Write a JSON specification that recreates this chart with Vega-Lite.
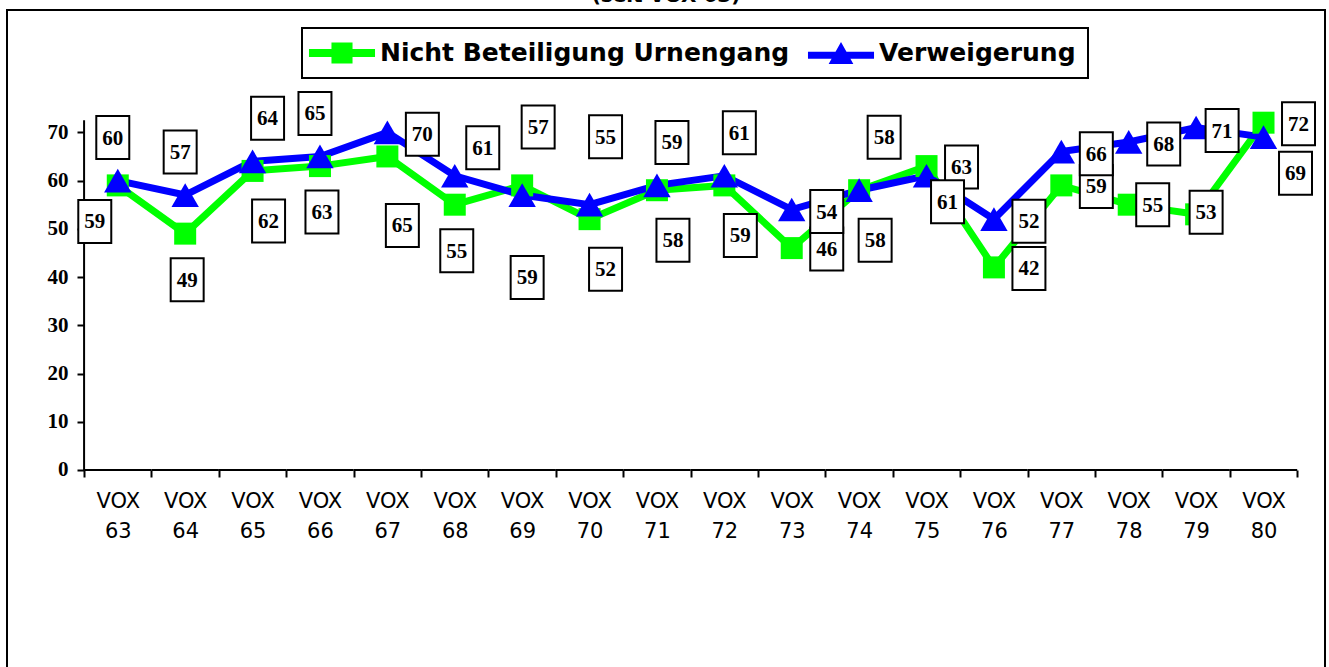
{
  "$schema": "https://vega.github.io/schema/vega-lite/v6.json",
  "width": 1318,
  "height": 657,
  "autosize": {"type": "none"},
  "padding": {"left": 7, "top": 10, "right": 4, "bottom": 0},
  "background": "white",
  "title": {"text": "(seit VOX 63)", "font": "DejaVu Sans", "fontSize": 20, "fontWeight": "bold", "anchor": "middle", "offset": 4, "color": "black"},
  "config": {
    "view": {"stroke": "black", "strokeWidth": 2, "strokeDash": [1975, 1318, 657]},
    "legend": {
      "orient": "none", "legendX": 295, "legendY": 18, "direction": "horizontal",
      "labelFont": "DejaVu Sans", "labelFontWeight": "bold", "labelFontSize": 25, "labelColor": "black", "labelLimit": 0,
      "symbolSize": 676, "symbolOffset": 15, "labelOffset": 25, "columnPadding": 17, "padding": 12,
      "strokeColor": "black", "fillColor": "white", "symbolOpacity": 1, "symbolStrokeWidth": 0
    }
  },
  "data": {"values": [
    {"vox": "VOX 63", "n": 63, "series": "Nicht Beteiligung Urnengang", "value": 59},
    {"vox": "VOX 64", "n": 64, "series": "Nicht Beteiligung Urnengang", "value": 49},
    {"vox": "VOX 65", "n": 65, "series": "Nicht Beteiligung Urnengang", "value": 62},
    {"vox": "VOX 66", "n": 66, "series": "Nicht Beteiligung Urnengang", "value": 63},
    {"vox": "VOX 67", "n": 67, "series": "Nicht Beteiligung Urnengang", "value": 65},
    {"vox": "VOX 68", "n": 68, "series": "Nicht Beteiligung Urnengang", "value": 55},
    {"vox": "VOX 69", "n": 69, "series": "Nicht Beteiligung Urnengang", "value": 59},
    {"vox": "VOX 70", "n": 70, "series": "Nicht Beteiligung Urnengang", "value": 52},
    {"vox": "VOX 71", "n": 71, "series": "Nicht Beteiligung Urnengang", "value": 58},
    {"vox": "VOX 72", "n": 72, "series": "Nicht Beteiligung Urnengang", "value": 59},
    {"vox": "VOX 73", "n": 73, "series": "Nicht Beteiligung Urnengang", "value": 46},
    {"vox": "VOX 74", "n": 74, "series": "Nicht Beteiligung Urnengang", "value": 58},
    {"vox": "VOX 75", "n": 75, "series": "Nicht Beteiligung Urnengang", "value": 63},
    {"vox": "VOX 76", "n": 76, "series": "Nicht Beteiligung Urnengang", "value": 42},
    {"vox": "VOX 77", "n": 77, "series": "Nicht Beteiligung Urnengang", "value": 59},
    {"vox": "VOX 78", "n": 78, "series": "Nicht Beteiligung Urnengang", "value": 55},
    {"vox": "VOX 79", "n": 79, "series": "Nicht Beteiligung Urnengang", "value": 53},
    {"vox": "VOX 80", "n": 80, "series": "Nicht Beteiligung Urnengang", "value": 72},
    {"vox": "VOX 63", "n": 63, "series": "Verweigerung", "value": 60},
    {"vox": "VOX 64", "n": 64, "series": "Verweigerung", "value": 57},
    {"vox": "VOX 65", "n": 65, "series": "Verweigerung", "value": 64},
    {"vox": "VOX 66", "n": 66, "series": "Verweigerung", "value": 65},
    {"vox": "VOX 67", "n": 67, "series": "Verweigerung", "value": 70},
    {"vox": "VOX 68", "n": 68, "series": "Verweigerung", "value": 61},
    {"vox": "VOX 69", "n": 69, "series": "Verweigerung", "value": 57},
    {"vox": "VOX 70", "n": 70, "series": "Verweigerung", "value": 55},
    {"vox": "VOX 71", "n": 71, "series": "Verweigerung", "value": 59},
    {"vox": "VOX 72", "n": 72, "series": "Verweigerung", "value": 61},
    {"vox": "VOX 73", "n": 73, "series": "Verweigerung", "value": 54},
    {"vox": "VOX 74", "n": 74, "series": "Verweigerung", "value": 58},
    {"vox": "VOX 75", "n": 75, "series": "Verweigerung", "value": 61},
    {"vox": "VOX 76", "n": 76, "series": "Verweigerung", "value": 52},
    {"vox": "VOX 77", "n": 77, "series": "Verweigerung", "value": 66},
    {"vox": "VOX 78", "n": 78, "series": "Verweigerung", "value": 68},
    {"vox": "VOX 79", "n": 79, "series": "Verweigerung", "value": 71},
    {"vox": "VOX 80", "n": 80, "series": "Verweigerung", "value": 69}
  ]},
  "encoding": {
    "x": {
      "field": "vox", "type": "nominal",
      "scale": {"type": "band", "paddingInner": 0, "paddingOuter": 0.778, "align": 0.735},
      "axis": {"tickBand": "extent", "domain": false, "grid": false, "offset": -197, "tickSize": 7, "tickWidth": 2, "tickColor": "black",
               "labelFont": "DejaVu Sans", "labelFontSize": 21, "labelColor": "black", "labelAngle": 0,
               "labelExpr": "split(datum.label, ' ')", "labelLineHeight": 30, "labelPadding": 13, "title": null}
    },
    "y": {
      "field": "value", "type": "quantitative",
      "scale": {"domain": [-40.84, 95.36], "nice": false, "zero": false},
      "axis": {"values": [0, 10, 20, 30, 40, 50, 60, 70], "domain": false, "grid": false, "offset": -77, "tickSize": 7, "tickWidth": 2, "tickColor": "black",
               "labelFont": "Liberation Serif", "labelFontWeight": "bold", "labelFontSize": 21, "labelColor": "black", "labelPadding": 9, "title": null}
    }
  },
  "layer": [
    {"transform": [{"filter": "datum.series == 'Verweigerung'"}], "mark": {"type": "rect", "color": "black", "opacity": 1},
     "encoding": {"y": {"datum": 0.21}, "y2": {"datum": -0.21}}},
    {"transform": [{"filter": "datum.series == 'Verweigerung' && datum.n == 63"}], "mark": {"type": "rule", "color": "black", "strokeWidth": 2, "opacity": 1},
     "encoding": {"x": {"field": "vox", "type": "nominal", "bandPosition": 0}, "y": {"datum": 0}, "y2": {"datum": 72.5}}},
    {"mark": {"type": "point", "filled": true, "opacity": 0},
     "encoding": {
       "color": {"field": "series", "type": "nominal", "title": null,
                 "scale": {"domain": ["Nicht Beteiligung Urnengang", "Verweigerung"], "range": ["#00FF00", "#0000FF"]},
                 "legend": {"title": null, "encode": {"legend": {"update": {"strokeWidth": {"value": 2}}}}}},
       "shape": {"field": "series", "type": "nominal", "title": null,
                 "scale": {"domain": ["Nicht Beteiligung Urnengang", "Verweigerung"],
                           "range": ["M-2.54,-0.3H2.54V0.3H-2.54Z M-0.81,-0.81H0.81V0.81H-0.81Z", "M-2.54,-0.1H2.54V0.45H-2.54Z M0,-0.85L0.95,0.85H-0.95Z"]},
                 "legend": {"title": null}}
     }},
    {"transform": [{"filter": "datum.series != 'Verweigerung'"}], "mark": {"type": "line", "color": "#00FF00", "strokeWidth": 7}},
    {"transform": [{"filter": "datum.series == 'Verweigerung'"}], "mark": {"type": "line", "color": "#0000FF", "strokeWidth": 7}},
    {"transform": [{"filter": "datum.series != 'Verweigerung'"}], "mark": {"type": "point", "shape": "square", "filled": true, "color": "#00FF00", "size": 484, "opacity": 1}},
    {"transform": [{"filter": "datum.series == 'Verweigerung'"}], "mark": {"type": "point", "shape": "triangle-up", "filled": true, "color": "#0000FF", "size": 750, "opacity": 1}},

    {"transform": [{"filter": "datum.series != 'Verweigerung' && indexof([63], datum.n) >= 0"}], "layer": [
      {"mark": {"type": "point", "shape": "M-0.767,-1H0.767V1H-0.767Z", "size": 1849, "filled": false, "fill": "white", "fillOpacity": 1, "stroke": "black", "strokeWidth": 2, "opacity": 1, "xOffset": -23, "yOffset": 36}},
      {"mark": {"type": "text", "font": "Liberation Serif", "fontWeight": "bold", "fontSize": 21, "color": "black", "baseline": "middle", "align": "center", "xOffset": -23, "yOffset": 37}, "encoding": {"text": {"field": "value"}}}]},
    {"transform": [{"filter": "datum.series != 'Verweigerung' && indexof([64,66,68], datum.n) >= 0"}], "layer": [
      {"mark": {"type": "point", "shape": "M-0.767,-1H0.767V1H-0.767Z", "size": 1849, "filled": false, "fill": "white", "fillOpacity": 1, "stroke": "black", "strokeWidth": 2, "opacity": 1, "xOffset": 2, "yOffset": 46}},
      {"mark": {"type": "text", "font": "Liberation Serif", "fontWeight": "bold", "fontSize": 21, "color": "black", "baseline": "middle", "align": "center", "xOffset": 2, "yOffset": 47}, "encoding": {"text": {"field": "value"}}}]},
    {"transform": [{"filter": "datum.series != 'Verweigerung' && indexof([65,70,71,72,74], datum.n) >= 0"}], "layer": [
      {"mark": {"type": "point", "shape": "M-0.767,-1H0.767V1H-0.767Z", "size": 1849, "filled": false, "fill": "white", "fillOpacity": 1, "stroke": "black", "strokeWidth": 2, "opacity": 1, "xOffset": 16, "yOffset": 50}},
      {"mark": {"type": "text", "font": "Liberation Serif", "fontWeight": "bold", "fontSize": 21, "color": "black", "baseline": "middle", "align": "center", "xOffset": 16, "yOffset": 51}, "encoding": {"text": {"field": "value"}}}]},
    {"transform": [{"filter": "datum.series != 'Verweigerung' && indexof([67], datum.n) >= 0"}], "layer": [
      {"mark": {"type": "point", "shape": "M-0.767,-1H0.767V1H-0.767Z", "size": 1849, "filled": false, "fill": "white", "fillOpacity": 1, "stroke": "black", "strokeWidth": 2, "opacity": 1, "xOffset": 15, "yOffset": 69}},
      {"mark": {"type": "text", "font": "Liberation Serif", "fontWeight": "bold", "fontSize": 21, "color": "black", "baseline": "middle", "align": "center", "xOffset": 15, "yOffset": 70}, "encoding": {"text": {"field": "value"}}}]},
    {"transform": [{"filter": "datum.series != 'Verweigerung' && indexof([69], datum.n) >= 0"}], "layer": [
      {"mark": {"type": "point", "shape": "M-0.767,-1H0.767V1H-0.767Z", "size": 1849, "filled": false, "fill": "white", "fillOpacity": 1, "stroke": "black", "strokeWidth": 2, "opacity": 1, "xOffset": 5, "yOffset": 92}},
      {"mark": {"type": "text", "font": "Liberation Serif", "fontWeight": "bold", "fontSize": 21, "color": "black", "baseline": "middle", "align": "center", "xOffset": 5, "yOffset": 93}, "encoding": {"text": {"field": "value"}}}]},
    {"transform": [{"filter": "datum.series != 'Verweigerung' && indexof([73,75,76,77,80], datum.n) >= 0"}], "layer": [
      {"mark": {"type": "point", "shape": "M-0.767,-1H0.767V1H-0.767Z", "size": 1849, "filled": false, "fill": "white", "fillOpacity": 1, "stroke": "black", "strokeWidth": 2, "opacity": 1, "xOffset": 35, "yOffset": 1}},
      {"mark": {"type": "text", "font": "Liberation Serif", "fontWeight": "bold", "fontSize": 21, "color": "black", "baseline": "middle", "align": "center", "xOffset": 35, "yOffset": 2}, "encoding": {"text": {"field": "value"}}}]},
    {"transform": [{"filter": "datum.series != 'Verweigerung' && indexof([78], datum.n) >= 0"}], "layer": [
      {"mark": {"type": "point", "shape": "M-0.767,-1H0.767V1H-0.767Z", "size": 1849, "filled": false, "fill": "white", "fillOpacity": 1, "stroke": "black", "strokeWidth": 2, "opacity": 1, "xOffset": 24, "yOffset": 0}},
      {"mark": {"type": "text", "font": "Liberation Serif", "fontWeight": "bold", "fontSize": 21, "color": "black", "baseline": "middle", "align": "center", "xOffset": 24, "yOffset": 1}, "encoding": {"text": {"field": "value"}}}]},
    {"transform": [{"filter": "datum.series != 'Verweigerung' && indexof([79], datum.n) >= 0"}], "layer": [
      {"mark": {"type": "point", "shape": "M-0.767,-1H0.767V1H-0.767Z", "size": 1849, "filled": false, "fill": "white", "fillOpacity": 1, "stroke": "black", "strokeWidth": 2, "opacity": 1, "xOffset": 10, "yOffset": -2}},
      {"mark": {"type": "text", "font": "Liberation Serif", "fontWeight": "bold", "fontSize": 21, "color": "black", "baseline": "middle", "align": "center", "xOffset": 10, "yOffset": -1}, "encoding": {"text": {"field": "value"}}}]},

    {"transform": [{"filter": "datum.series == 'Verweigerung' && indexof([63,64,66], datum.n) >= 0"}], "layer": [
      {"mark": {"type": "point", "shape": "M-0.767,-1H0.767V1H-0.767Z", "size": 1849, "filled": false, "fill": "white", "fillOpacity": 1, "stroke": "black", "strokeWidth": 2, "opacity": 1, "xOffset": -5, "yOffset": -43}},
      {"mark": {"type": "text", "font": "Liberation Serif", "fontWeight": "bold", "fontSize": 21, "color": "black", "baseline": "middle", "align": "center", "xOffset": -5, "yOffset": -42}, "encoding": {"text": {"field": "value"}}}]},
    {"transform": [{"filter": "datum.series == 'Verweigerung' && indexof([65,71,72], datum.n) >= 0"}], "layer": [
      {"mark": {"type": "point", "shape": "M-0.767,-1H0.767V1H-0.767Z", "size": 1849, "filled": false, "fill": "white", "fillOpacity": 1, "stroke": "black", "strokeWidth": 2, "opacity": 1, "xOffset": 15, "yOffset": -43}},
      {"mark": {"type": "text", "font": "Liberation Serif", "fontWeight": "bold", "fontSize": 21, "color": "black", "baseline": "middle", "align": "center", "xOffset": 15, "yOffset": -42}, "encoding": {"text": {"field": "value"}}}]},
    {"transform": [{"filter": "datum.series == 'Verweigerung' && indexof([68], datum.n) >= 0"}], "layer": [
      {"mark": {"type": "point", "shape": "M-0.767,-1H0.767V1H-0.767Z", "size": 1849, "filled": false, "fill": "white", "fillOpacity": 1, "stroke": "black", "strokeWidth": 2, "opacity": 1, "xOffset": 28, "yOffset": -28}},
      {"mark": {"type": "text", "font": "Liberation Serif", "fontWeight": "bold", "fontSize": 21, "color": "black", "baseline": "middle", "align": "center", "xOffset": 28, "yOffset": -27}, "encoding": {"text": {"field": "value"}}}]},
    {"transform": [{"filter": "datum.series == 'Verweigerung' && indexof([69,70], datum.n) >= 0"}], "layer": [
      {"mark": {"type": "point", "shape": "M-0.767,-1H0.767V1H-0.767Z", "size": 1849, "filled": false, "fill": "white", "fillOpacity": 1, "stroke": "black", "strokeWidth": 2, "opacity": 1, "xOffset": 16, "yOffset": -68}},
      {"mark": {"type": "text", "font": "Liberation Serif", "fontWeight": "bold", "fontSize": 21, "color": "black", "baseline": "middle", "align": "center", "xOffset": 16, "yOffset": -67}, "encoding": {"text": {"field": "value"}}}]},
    {"transform": [{"filter": "datum.series == 'Verweigerung' && indexof([74], datum.n) >= 0"}], "layer": [
      {"mark": {"type": "point", "shape": "M-0.767,-1H0.767V1H-0.767Z", "size": 1849, "filled": false, "fill": "white", "fillOpacity": 1, "stroke": "black", "strokeWidth": 2, "opacity": 1, "xOffset": 25, "yOffset": -53}},
      {"mark": {"type": "text", "font": "Liberation Serif", "fontWeight": "bold", "fontSize": 21, "color": "black", "baseline": "middle", "align": "center", "xOffset": 25, "yOffset": -52}, "encoding": {"text": {"field": "value"}}}]},
    {"transform": [{"filter": "datum.series == 'Verweigerung' && indexof([67,73,76,77,78], datum.n) >= 0"}], "layer": [
      {"mark": {"type": "point", "shape": "M-0.767,-1H0.767V1H-0.767Z", "size": 1849, "filled": false, "fill": "white", "fillOpacity": 1, "stroke": "black", "strokeWidth": 2, "opacity": 1, "xOffset": 35, "yOffset": 2}},
      {"mark": {"type": "text", "font": "Liberation Serif", "fontWeight": "bold", "fontSize": 21, "color": "black", "baseline": "middle", "align": "center", "xOffset": 35, "yOffset": 3}, "encoding": {"text": {"field": "value"}}}]},
    {"transform": [{"filter": "datum.series == 'Verweigerung' && indexof([79], datum.n) >= 0"}], "layer": [
      {"mark": {"type": "point", "shape": "M-0.767,-1H0.767V1H-0.767Z", "size": 1849, "filled": false, "fill": "white", "fillOpacity": 1, "stroke": "black", "strokeWidth": 2, "opacity": 1, "xOffset": 26, "yOffset": 3}},
      {"mark": {"type": "text", "font": "Liberation Serif", "fontWeight": "bold", "fontSize": 21, "color": "black", "baseline": "middle", "align": "center", "xOffset": 26, "yOffset": 4}, "encoding": {"text": {"field": "value"}}}]},
    {"transform": [{"filter": "datum.series == 'Verweigerung' && indexof([75], datum.n) >= 0"}], "layer": [
      {"mark": {"type": "point", "shape": "M-0.767,-1H0.767V1H-0.767Z", "size": 1849, "filled": false, "fill": "white", "fillOpacity": 1, "stroke": "black", "strokeWidth": 2, "opacity": 1, "xOffset": 21, "yOffset": 26}},
      {"mark": {"type": "text", "font": "Liberation Serif", "fontWeight": "bold", "fontSize": 21, "color": "black", "baseline": "middle", "align": "center", "xOffset": 21, "yOffset": 27}, "encoding": {"text": {"field": "value"}}}]},
    {"transform": [{"filter": "datum.series == 'Verweigerung' && indexof([80], datum.n) >= 0"}], "layer": [
      {"mark": {"type": "point", "shape": "M-0.767,-1H0.767V1H-0.767Z", "size": 1849, "filled": false, "fill": "white", "fillOpacity": 1, "stroke": "black", "strokeWidth": 2, "opacity": 1, "xOffset": 32, "yOffset": 36}},
      {"mark": {"type": "text", "font": "Liberation Serif", "fontWeight": "bold", "fontSize": 21, "color": "black", "baseline": "middle", "align": "center", "xOffset": 32, "yOffset": 37}, "encoding": {"text": {"field": "value"}}}]}
  ]
}
